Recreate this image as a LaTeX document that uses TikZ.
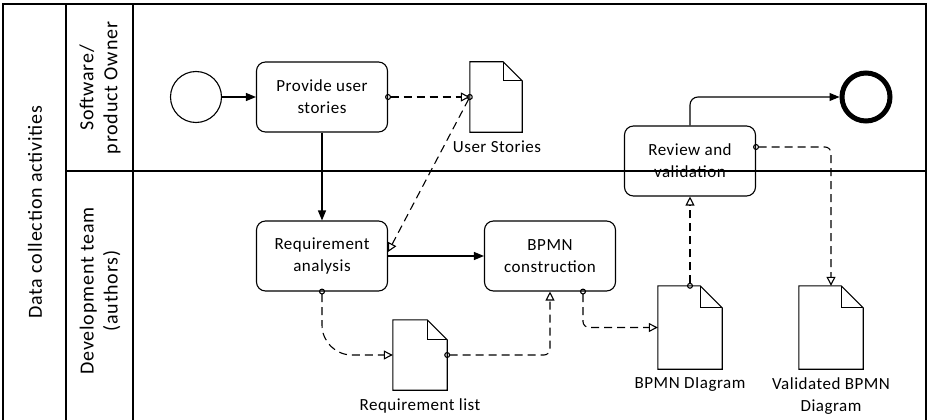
\documentclass[tikz,border=0pt]{standalone}
\usepackage{fontspec}
\setmainfont{Carlito}
\newfontfamily\labfont[LetterSpace=3]{Carlito}
\newfontfamily\lanefont[LetterSpace=4]{Carlito}
\usetikzlibrary{arrows.meta}
\newcommand\docdraw[2]{%
  \draw[docline] (#1.north west) -- ([xshift=-#2]#1.north east) -- ([yshift=-#2]#1.north east) -- (#1.south east) -- (#1.south west) -- cycle;
  \draw[docline] ([xshift=-#2]#1.north east) |- ([yshift=-#2]#1.north east);}
\begin{document}
\begin{tikzpicture}[x=1pt,y=-1pt,
  frame/.style={line width=1.2pt},
  task/.style={draw, line width=1.1pt, rounded corners=9pt, minimum width=131pt, minimum height=70pt, align=center, inner sep=0pt, font=\labfont\fontsize{17}{22}\selectfont},
  docbox/.style={inner sep=0pt},
  docline/.style={line width=1.1pt, line join=miter},
  lbl/.style={align=center, font=\labfont\fontsize{17}{22}\selectfont},
  lanelbl/.style={rotate=90, align=center, font=\lanefont\fontsize{20}{24}\selectfont},
  seq/.style={line width=1.1pt, -{Triangle[length=10pt,width=8pt]}},
  assoc/.style={line width=1.1pt, dash pattern=on 8pt off 5pt, {Circle[open,length=6pt,width=6pt]}-{Triangle[open,length=9pt,width=9pt]}, shorten <=-3pt}
]
\useasboundingbox (0,0) rectangle (930,420);
% pool and lanes
\draw[frame] (3,424) -- (3,4) -- (926,4) -- (926,424);
\draw[frame] (66,4) -- (66,424);
\draw[frame] (133,4) -- (133,424);
\draw[frame] (66,171) -- (926,171);
\node[lanelbl] (pool) at (35,212) {Data collection activities};
\node[lanelbl] (lane1) at (100,88) {Software/\\product Owner};
\node[lanelbl] (lane2) at (100,291) {Development team\\(authors)};
% events
\node[draw, circle, line width=1.1pt, minimum size=51pt, inner sep=0pt] (start) at (196,97) {};
\node[draw, circle, line width=5pt, minimum size=48pt, inner sep=0pt] (end) at (866,97) {};
% tasks
\node[task] (provide) at (322,97) {Provide user\\stories};
\node[task] (req) at (322,256) {Requirement\\analysis};
\node[task] (bpmn) at (550,256) {BPMN\\construction};
\node[task] (review) at (690,161) {Review and\\validation};
% documents
\node[docbox, minimum width=52pt, minimum height=70pt] (us) at (496,97) {};
\docdraw{us}{19pt}
\node[docbox, minimum width=54pt, minimum height=70pt] (rl) at (420,355) {};
\docdraw{rl}{20pt}
\node[docbox, minimum width=64pt, minimum height=83pt] (bd) at (690,327.5) {};
\docdraw{bd}{22pt}
\node[docbox, minimum width=64pt, minimum height=83pt] (vd) at (831,327.5) {};
\docdraw{vd}{22pt}
\node[lbl] (usl) at (497,147) {User Stories};
\node[lbl] (rll) at (420,406) {Requirement list};
\node[lbl] (bdl) at (690,385) {BPMN DIagram};
\node[lbl] (vdl) at (831,396) {Validated BPMN\\Diagram};
% sequence flows
\draw[seq] (start) -- (provide);
\draw[seq] (provide) -- (req);
\draw[seq] (req) -- (bpmn);
\draw[seq, rounded corners=8pt] (review.north) |- (end);
% data associations
\draw[assoc] (provide.east) -- (us.west);
\draw[assoc] (us.west) -- ([yshift=4pt]req.east);
\draw[assoc, rounded corners=30pt] (req.south) |- (rl.west);
\draw[assoc, rounded corners=6pt] (rl.east) -| (bpmn.south);
\draw[assoc, rounded corners=6pt] ([xshift=33pt]bpmn.south) |- (bd.west);
\draw[assoc] (bd.north) -- (review.south);
\draw[assoc, rounded corners=6pt] ([yshift=14pt]review.east) -| (vd.north);
\end{tikzpicture}
\end{document}
